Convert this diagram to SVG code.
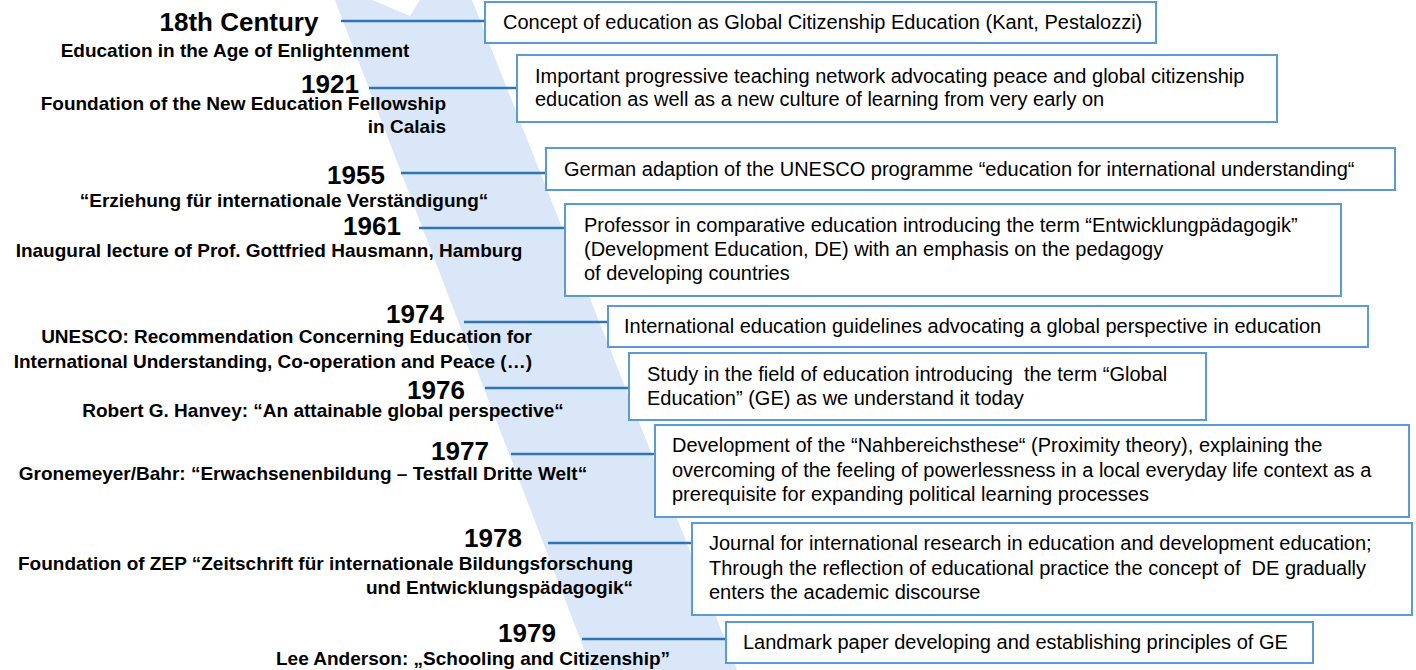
<svg xmlns="http://www.w3.org/2000/svg" width="1416" height="670" viewBox="0 0 1416 670">
<style>
.yr{font-family:"Liberation Sans",Arial,sans-serif;font-weight:bold;font-size:26px;fill:#000;text-anchor:middle}
.lb{font-family:"Liberation Sans",Arial,sans-serif;font-weight:bold;font-size:19px;fill:#000}
.mid{text-anchor:middle}
.end{text-anchor:end}
.tx{font-family:"Liberation Sans",Arial,sans-serif;font-size:20px;fill:#000;white-space:pre}
.box{fill:#fff;stroke:#5B9BD5;stroke-width:2}
.con{stroke:#2E75B6;stroke-width:2.5;fill:none}
</style>
<rect x="0" y="0" width="1416" height="670" fill="#fff"/>
<polygon id="band" points="335,0 372,0 410,16 420,0 472,0 737,670 592,670" fill="#DAE7F8"/>
<g id="connectors">
<line class="con" x1="341" y1="21" x2="485" y2="21"/>
<line class="con" x1="369" y1="88" x2="517" y2="88"/>
<line class="con" x1="401" y1="173" x2="546" y2="173"/>
<line class="con" x1="419" y1="228" x2="565" y2="228"/>
<line class="con" x1="464" y1="322" x2="608" y2="322"/>
<line class="con" x1="485" y1="388" x2="629" y2="388"/>
<line class="con" x1="511" y1="454" x2="655" y2="454"/>
<line class="con" x1="548" y1="543" x2="692" y2="543"/>
<line class="con" x1="582" y1="639" x2="726" y2="639"/>
</g>
<g id="label-18c">
<text class="yr" x="239" y="31">18th Century</text>
<text class="lb mid" x="235" y="57">Education in the Age of Enlightenment</text>
</g>
<g id="box-18c">
<rect class="box" x="485" y="2" width="671" height="41"/>
<text class="tx" x="503" y="29">Concept of education as Global Citizenship Education (Kant, Pestalozzi)</text>
</g>
<g id="label-1921">
<text class="yr" x="330" y="93">1921</text>
<text class="lb end" x="446" y="110">Foundation of the New Education Fellowship</text>
<text class="lb end" x="446" y="133">in Calais</text>
</g>
<g id="box-1921">
<rect class="box" x="517" y="55" width="760" height="67"/>
<text class="tx" x="535" y="83">Important progressive teaching network advocating peace and global citizenship</text>
<text class="tx" x="535" y="106">education as well as a new culture of learning from very early on</text>
</g>
<g id="label-1955">
<text class="yr" x="356" y="184">1955</text>
<text class="lb mid" x="284" y="207">“Erziehung für internationale Verständigung“</text>
</g>
<g id="box-1955">
<rect class="box" x="546" y="148" width="849" height="42"/>
<text class="tx" x="564" y="176">German adaption of the UNESCO programme “education for international understanding“</text>
</g>
<g id="label-1961">
<text class="yr" x="372" y="235">1961</text>
<text class="lb mid" x="269" y="257">Inaugural lecture of Prof. Gottfried Hausmann, Hamburg</text>
</g>
<g id="box-1961">
<rect class="box" x="565" y="204" width="776" height="92"/>
<text class="tx" x="584" y="232">Professor in comparative education introducing the term “Entwicklungpädagogik”</text>
<text class="tx" x="584" y="256">(Development Education, DE) with an emphasis on the pedagogy</text>
<text class="tx" x="584" y="280">of developing countries</text>
</g>
<g id="label-1974">
<text class="yr" x="415" y="323">1974</text>
<text class="lb end" x="532" y="343">UNESCO: Recommendation Concerning Education for</text>
<text class="lb end" x="532" y="368">International Understanding, Co-operation and Peace (…)</text>
</g>
<g id="box-1974">
<rect class="box" x="608" y="306" width="760" height="41"/>
<text class="tx" x="624" y="333">International education guidelines advocating a global perspective in education</text>
</g>
<g id="label-1976">
<text class="yr" x="436" y="399">1976</text>
<text class="lb mid" x="323" y="417">Robert G. Hanvey: “An attainable global perspective“</text>
</g>
<g id="box-1976">
<rect class="box" x="629" y="353" width="577" height="67"/>
<text class="tx" x="647" y="381" xml:space="preserve">Study in the field of education introducing  the term “Global</text>
<text class="tx" x="647" y="405">Education” (GE) as we understand it today</text>
</g>
<g id="label-1977">
<text class="yr" x="460" y="460">1977</text>
<text class="lb mid" x="303" y="480">Gronemeyer/Bahr: “Erwachsenenbildung – Testfall Dritte Welt“</text>
</g>
<g id="box-1977">
<rect class="box" x="655" y="425" width="754" height="92"/>
<text class="tx" x="672" y="452">Development of the “Nahbereichsthese“ (Proximity theory), explaining the</text>
<text class="tx" x="672" y="477">overcoming of the feeling of powerlessness in a local everyday life context as a</text>
<text class="tx" x="672" y="501">prerequisite for expanding political learning processes</text>
</g>
<g id="label-1978">
<text class="yr" x="493" y="547">1978</text>
<text class="lb end" x="633" y="570">Foundation of ZEP “Zeitschrift für internationale Bildungsforschung</text>
<text class="lb end" x="633" y="594">und Entwicklungspädagogik“</text>
</g>
<g id="box-1978">
<rect class="box" x="692" y="523" width="720" height="92"/>
<text class="tx" x="709" y="550">Journal for international research in education and development education;</text>
<text class="tx" x="709" y="575" xml:space="preserve">Through the reflection of educational practice the concept of  DE gradually</text>
<text class="tx" x="709" y="599">enters the academic discourse</text>
</g>
<g id="label-1979">
<text class="yr" x="527" y="642">1979</text>
<text class="lb mid" x="473" y="665">Lee Anderson: „Schooling and Citizenship”</text>
</g>
<g id="box-1979">
<rect class="box" x="726" y="622" width="587" height="41"/>
<text class="tx" x="743" y="649">Landmark paper developing and establishing principles of GE</text>
</g>
</svg>
